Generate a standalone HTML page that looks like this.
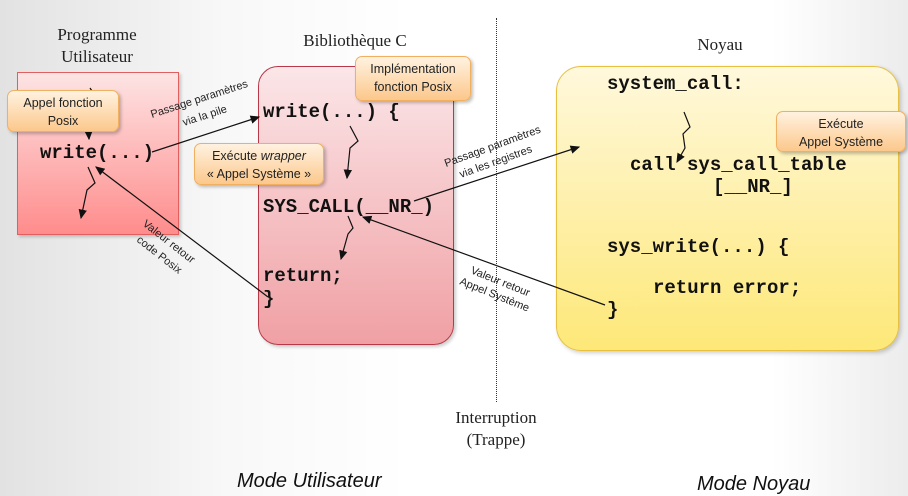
<!DOCTYPE html>
<html><head><meta charset="utf-8"><style>
body{margin:0;width:908px;height:496px;overflow:hidden;position:relative;font-family:"Liberation Sans",sans-serif;
background:linear-gradient(90deg,#e2e2e2 0%,#f8f8f8 25%,#fff 45%,#fff 85%,#ececec 100%);}
.box{position:absolute;box-sizing:border-box}
.co{position:absolute;box-sizing:border-box;border:1.5px solid #f0b060;border-radius:7px;background:linear-gradient(#fff2e0,#fcc88c);box-shadow:2px 2px 3px rgba(0,0,0,.25);font-size:12.5px;text-align:center;line-height:18px;color:#222;padding-top:3px}
.m{position:absolute;font-family:"Liberation Mono",monospace;font-weight:bold;font-size:19px;white-space:pre;color:#111}
.s{position:absolute;font-family:"Liberation Serif",serif;font-size:17px;text-align:center;color:#222}
.i{position:absolute;font-style:italic;font-size:20px;color:#111}
</style></head><body>
<div class="box" style="left:17px;top:72px;width:162px;height:163px;border:1.5px solid #e06060;background:linear-gradient(#fde4e4,#ff8c8c);box-shadow:2px 2px 3px rgba(0,0,0,.2)"></div>
<div class="box" style="left:258px;top:66px;width:196px;height:279px;border:1.5px solid #b83848;border-radius:20px;background:linear-gradient(#fbe6e8,#f0a0a4);box-shadow:2px 2px 3px rgba(0,0,0,.2)"></div>
<div class="box" style="left:556px;top:66px;width:343px;height:285px;border:1.5px solid #e8c040;border-radius:25px;background:linear-gradient(#fff8dc,#fde878);box-shadow:2px 2px 4px rgba(0,0,0,.2)"></div>

<div class="s" style="left:27px;top:24px;width:140px;line-height:22px">Programme<br>Utilisateur</div>
<div class="s" style="left:285px;top:31px;width:140px">Bibliothèque C</div>
<div class="s" style="left:660px;top:35px;width:120px">Noyau</div>
<div class="s" style="left:426px;top:407px;width:140px;line-height:22px">Interruption<br>(Trappe)</div>
<div class="i" style="left:237px;top:470px">Mode Utilisateur</div>
<div class="i" style="left:697px;top:473px">Mode Noyau</div>

<div class="m" style="left:40px;top:142px">write(...)</div>
<div class="m" style="left:263px;top:101px">write(...) {</div>
<div class="m" style="left:263px;top:196px">SYS_CALL(__NR_)</div>
<div class="m" style="left:263px;top:265px">return;</div>
<div class="m" style="left:263px;top:288px">}</div>
<div class="m" style="left:607px;top:73px">system_call:</div>
<div class="m" style="left:630px;top:154px">call sys_call_table</div>
<div class="m" style="left:713px;top:176px">[__NR_]</div>
<div class="m" style="left:607px;top:236px">sys_write(...) {</div>
<div class="m" style="left:653px;top:277px">return error;</div>
<div class="m" style="left:607px;top:299px">}</div>

<div class="box" style="left:496px;top:18px;width:0;height:384px;border-left:1.5px dotted #333"></div>

<svg width="908" height="496" style="position:absolute;left:0;top:0">
<defs><marker id="ar" markerWidth="8" markerHeight="8" refX="7" refY="4" orient="auto"><path d="M0,0.5L8,4L0,7.5z" fill="#111"/></marker></defs>
<g stroke="#111" stroke-width="1.2" fill="none">
<line x1="152" y1="152" x2="259" y2="117" marker-end="url(#ar)"/>
<line x1="268" y1="297" x2="96" y2="167" marker-end="url(#ar)"/>
<line x1="414" y1="201" x2="579" y2="147" marker-end="url(#ar)"/>
<line x1="605" y1="305" x2="363" y2="217" marker-end="url(#ar)"/>
<path d="M90,88L94,94L87,104L89,139" marker-end="url(#ar)"/>
<path d="M88,167L95,183L87,190L81,218" marker-end="url(#ar)"/>
<path d="M350,126L358,141L350,148L347,178" marker-end="url(#ar)"/>
<path d="M348,216L353,228L348,234L341,259" marker-end="url(#ar)"/>
<path d="M684,112L690,127L683,134L685,148L677,162" marker-end="url(#ar)"/>
</g>
<g font-family="Liberation Sans,sans-serif" font-size="11" fill="#222">
<text transform="translate(152,118) rotate(-18)">Passage paramètres</text>
<text transform="translate(184,126) rotate(-18)">via la pile</text>
<text transform="translate(142,225) rotate(38)">Valeur retour</text>
<text transform="translate(136,241) rotate(38)">code Posix</text>
<text transform="translate(446,167) rotate(-20)">Passage paramètres</text>
<text transform="translate(461,178) rotate(-20)">via les registres</text>
<text transform="translate(470,273) rotate(22)">Valeur retour</text>
<text transform="translate(459,284) rotate(22)">Appel Système</text>
</g>
</svg>

<div class="co" style="left:7px;top:90px;width:112px;height:42px">Appel fonction<br>Posix</div>
<div class="co" style="left:355px;top:56px;width:116px;height:45px">Implémentation<br>fonction Posix</div>
<div class="co" style="left:194px;top:143px;width:130px;height:42px">Exécute <i>wrapper</i><br>« Appel Système »</div>
<div class="co" style="left:776px;top:111px;width:130px;height:41px">Exécute<br>Appel Système</div>
</body></html>
